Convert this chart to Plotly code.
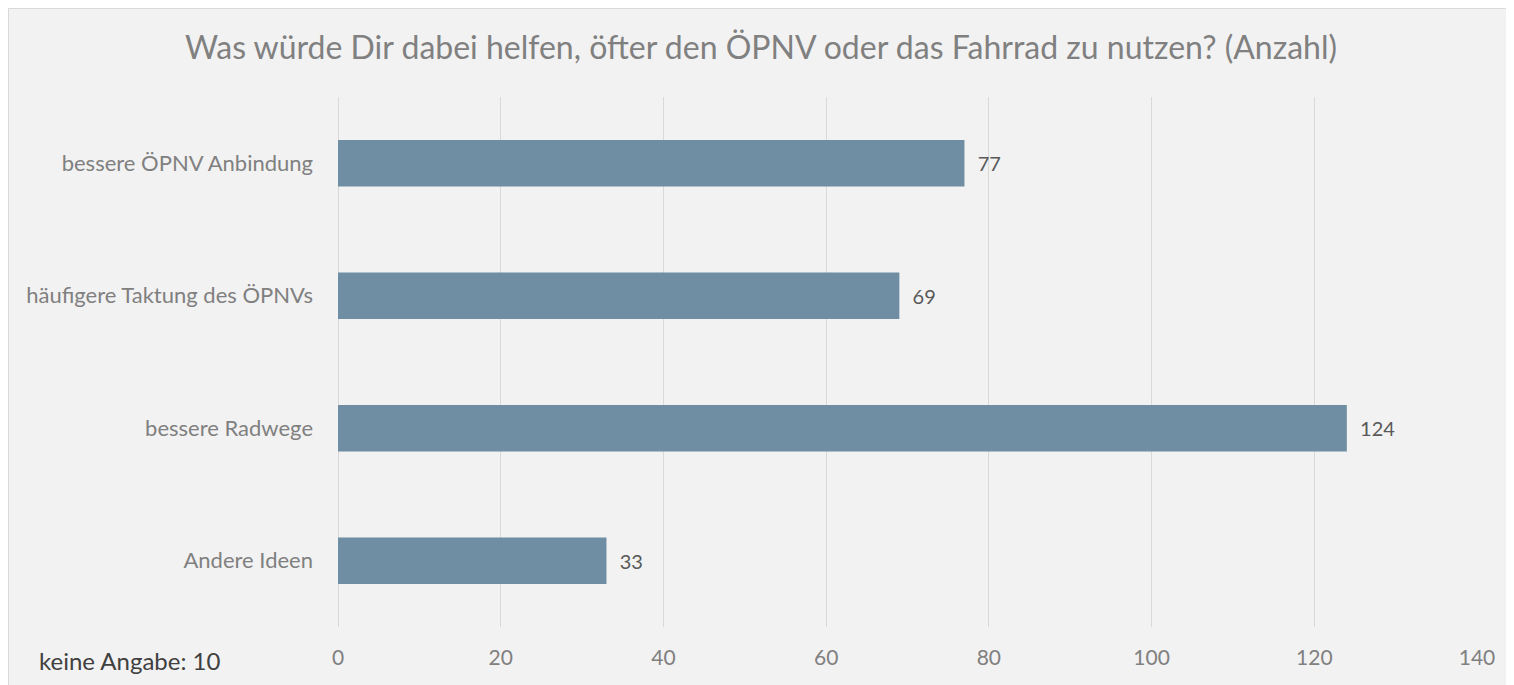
import plotly.graph_objects as go

# survey answers, top to bottom as shown
categories = ["bessere ÖPNV Anbindung", "häufigere Taktung des ÖPNVs", "bessere Radwege", "Andere Ideen"]
counts = [77, 69, 124, 33]
x_ticks = [0, 20, 40, 60, 80, 100, 120, 140]
no_answer = 10

BAR = "#6f8ea4"
BG = "#f2f2f2"
GRID = "#d9d9d9"
FONT = "Lato, Open Sans, sans-serif"

# page body adds an 8px margin, so the figure is 8px smaller than the window
W, H = 1506, 677
L, R, T, B = 330, 37, 89, 58
pw, ph = W - L - R, H - T - B


def px_x(x):
    return (x - L) / pw


def px_y(y):
    return (H - B - y) / ph


fig = go.Figure(
    go.Bar(
        x=counts,
        y=categories,
        orientation="h",
        width=0.35,
        marker={"color": BAR, "line": {"width": 0}},
        text=[f"  {c}" for c in counts],
        textposition="outside",
        cliponaxis=False,
        textfont={"size": 20, "color": "#595959", "family": FONT},
    )
)

fig.update_layout(
    width=W,
    height=H,
    paper_bgcolor=BG,
    plot_bgcolor="rgba(0,0,0,0)",
    margin={"l": L, "r": R, "t": T, "b": B},
    font={"family": FONT, "color": "#808080"},
    showlegend=False,
    title={
        "text": "Was würde Dir dabei helfen, öfter den ÖPNV oder das Fahrrad zu nutzen? (Anzahl)",
        "x": 0.5,
        "xanchor": "center",
        "y": 1 - 40 / H,
        "yanchor": "middle",
        "font": {"size": 32, "color": "#808080", "family": FONT},
    },
    shapes=[
        {
            "type": "rect",
            "xref": "paper",
            "yref": "paper",
            "x0": px_x(0.5),
            "x1": px_x(W + 20),
            "y0": px_y(H + 20),
            "y1": px_y(0.5),
            "line": {"color": GRID, "width": 1},
            "layer": "below",
        }
    ],
    annotations=[
        {
            "text": f"keine Angabe: {no_answer}",
            "xref": "paper",
            "yref": "paper",
            "x": px_x(29),
            "y": px_y(652),
            "xanchor": "left",
            "yanchor": "middle",
            "showarrow": False,
            "font": {"size": 24, "color": "#404040", "family": FONT},
        }
    ],
)

fig.update_xaxes(
    range=[0, 140],
    tickvals=x_ticks,
    showgrid=True,
    gridcolor=GRID,
    gridwidth=1,
    zeroline=True,
    zerolinecolor=GRID,
    zerolinewidth=1,
    showline=False,
    ticks="",
    ticklabelstandoff=16,
    tickfont={"size": 21, "color": "#808080", "family": FONT},
)
fig.update_yaxes(
    categoryorder="array",
    categoryarray=categories[::-1],
    showgrid=False,
    zeroline=False,
    showline=False,
    ticks="",
    ticklabelstandoff=24,
    tickfont={"size": 22, "color": "#808080", "family": FONT},
)

fig.write_html("out.html")
